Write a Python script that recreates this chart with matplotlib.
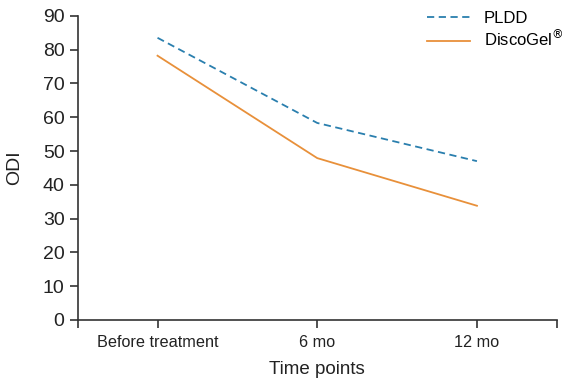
import matplotlib
matplotlib.use("Agg")
import matplotlib.pyplot as plt

plt.rcParams['font.family'] = ['Liberation Sans', 'DejaVu Sans']

time_points = ["Before treatment", "6 mo", "12 mo"]
x_pos = [0.5, 1.5, 2.5]
pldd = [83.5, 58.3, 47.0]
discogel = [78.2, 47.9, 33.8]

fig = plt.figure(figsize=(5.67, 3.86), dpi=100)
ax = fig.add_axes([0.137, 0.171, 0.845, 0.788])

ax.plot(x_pos, pldd, color='#2a7fae', linestyle=(0, (4, 2.5)), linewidth=1.3, label='PLDD')
ax.plot(x_pos, discogel, color='#e8903a', linewidth=1.3, label='DiscoGel$^{®}$')

ax.set_xlim(0, 3)
ax.set_ylim(0, 90)
ax.set_yticks(range(0, 91, 10))
ax.set_xticks([0, 0.5, 1.5, 2.5, 3])
ax.set_xticklabels([''] + time_points + [''])

for s in ['top', 'right']:
    ax.spines[s].set_visible(False)
for s in ['left', 'bottom']:
    ax.spines[s].set_color('#333333')
    ax.spines[s].set_linewidth(1.2)

ax.tick_params(axis='y', labelsize=14, length=6, width=1.2, color='#333333', labelcolor='#222222')
ax.tick_params(axis='x', labelsize=11.7, length=6, width=1.2, color='#333333', labelcolor='#222222', pad=5)

ax.set_xlabel("Time points", fontsize=13.5, color='#222222', labelpad=8)
ax.set_ylabel("ODI", fontsize=14, color='#222222', labelpad=14)

leg = ax.legend(loc='upper right', frameon=False, fontsize=12, handlelength=2.6,
                bbox_to_anchor=(1.045, 1.065), labelspacing=0.15, handletextpad=0.8)

fig.savefig("out.png", dpi=100)
